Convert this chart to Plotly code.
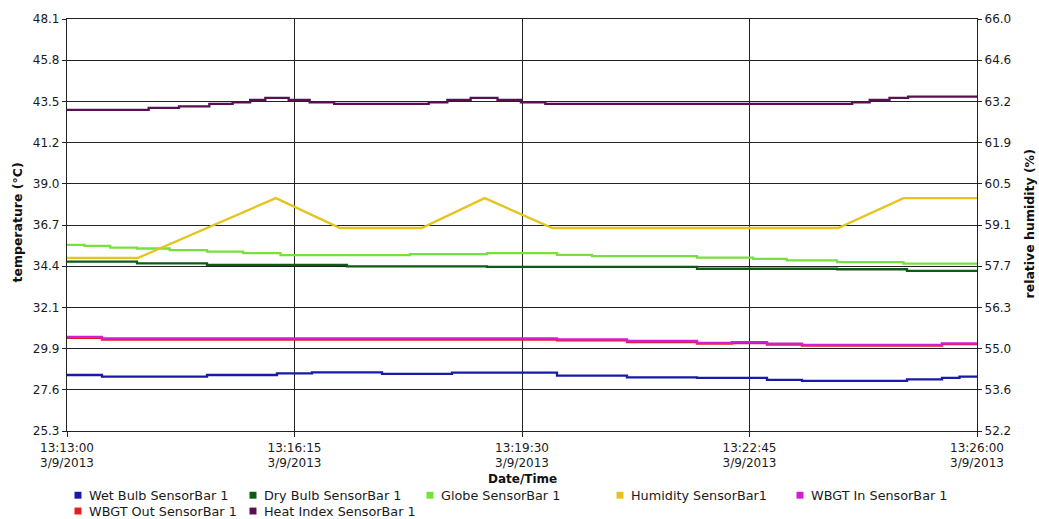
import numpy as np
import plotly.graph_objects as go

# ---- sensor readings, 3/9/2013 ----
DAY = "2013-03-09 "

wet_bulb_times = ["13:13:00", "13:13:30", "13:15:00", "13:16:00", "13:16:30", "13:17:30",
                  "13:18:30", "13:20:00", "13:21:00", "13:22:00", "13:23:00", "13:23:30",
                  "13:25:00", "13:25:30", "13:25:45", "13:26:00"]
wet_bulb_vals = [28.40, 28.31, 28.40, 28.49, 28.54, 28.46, 28.53, 28.36, 28.27, 28.24,
                 28.13, 28.07, 28.16, 28.24, 28.31, 28.31]

dry_bulb_times = ["13:13:00", "13:14:00", "13:15:00", "13:17:00", "13:19:00", "13:22:00",
                  "13:24:00", "13:25:00", "13:26:00"]
dry_bulb_vals = [34.67, 34.58, 34.49, 34.41, 34.38, 34.28, 34.25, 34.16, 34.16]

globe_times = ["13:13:00", "13:13:15", "13:13:37", "13:14:00", "13:14:28", "13:15:00",
               "13:15:31", "13:16:03", "13:17:54", "13:19:00", "13:20:00", "13:20:30",
               "13:22:00", "13:22:48", "13:23:17", "13:24:00", "13:24:57", "13:26:00"]
globe_vals = [35.60, 35.54, 35.45, 35.40, 35.31, 35.23, 35.14, 35.03, 35.09, 35.14,
              35.05, 34.98, 34.89, 34.83, 34.74, 34.65, 34.56, 34.56]

humidity_times = ["13:13:00", "13:14:01", "13:15:59", "13:16:54", "13:18:04", "13:18:58",
                  "13:19:56", "13:24:01", "13:24:57", "13:26:00"]
humidity_vals = [58.0, 58.0, 60.0, 59.0, 59.0, 60.0, 59.0, 59.0, 60.0, 60.0]

wbgt_times = ["13:13:00", "13:13:30", "13:20:00", "13:21:00", "13:22:00", "13:22:30",
              "13:23:00", "13:23:30", "13:25:30", "13:26:00"]
wbgt_in_vals = [30.51, 30.42, 30.37, 30.28, 30.18, 30.22, 30.13, 30.07, 30.15, 30.15]
wbgt_out_vals = [30.45, 30.36, 30.31, 30.22, 30.13, 30.17, 30.08, 30.03, 30.11, 30.11]

heat_index_times = ["13:13:00", "13:14:10", "13:14:36", "13:15:02", "13:15:22", "13:15:37",
                    "13:15:50", "13:16:10", "13:16:28", "13:16:49", "13:18:10", "13:18:26",
                    "13:18:46", "13:19:09", "13:19:29", "13:19:50", "13:24:13", "13:24:28",
                    "13:24:45", "13:25:01", "13:26:00"]
heat_index_vals = [43.07, 43.18, 43.27, 43.40, 43.49, 43.62, 43.73, 43.62, 43.49, 43.40,
                   43.49, 43.62, 43.73, 43.62, 43.49, 43.40, 43.49, 43.62, 43.73, 43.80, 43.80]

x_tick_times = ["13:13:00", "13:16:15", "13:19:30", "13:22:45", "13:26:00"]
temp_tick_labels = ["25.3", "27.6", "29.9", "32.1", "34.4", "36.7", "39.0", "41.2", "43.5", "45.8", "48.1"]
rh_tick_labels = ["52.2", "53.6", "55.0", "56.3", "57.7", "59.1", "60.5", "61.9", "63.2", "64.6", "66.0"]

series_names = ["Wet Bulb SensorBar 1", "Dry Bulb SensorBar 1", "Globe SensorBar 1",
                "Humidity SensorBar1", "WBGT In SensorBar 1", "WBGT Out SensorBar 1",
                "Heat Index SensorBar 1"]
series_colors = ["#1a1aa6", "#0e5a16", "#78e03c", "#e6c41e", "#d21ed2", "#e02020", "#5a0f55"]


def stamp(times):
    return [DAY + t for t in times]


# ---- canvas geometry ----
W, H = 1039, 519
L, R, T, B = 67, 62, 14, 88
PW, PH = W - L - R, H - T - B


def px_x(px):
    return (px - L) / PW


def px_y(py):
    return (H - B - py) / PH


fig = go.Figure()

line_specs = [
    (wet_bulb_times, wet_bulb_vals, 0, "y", "hv"),
    (dry_bulb_times, dry_bulb_vals, 1, "y", "hv"),
    (globe_times, globe_vals, 2, "y", "hv"),
    (humidity_times, humidity_vals, 3, "y2", "linear"),
    (wbgt_times, wbgt_out_vals, 5, "y", "hv"),
    (wbgt_times, wbgt_in_vals, 4, "y", "hv"),
    (heat_index_times, heat_index_vals, 6, "y", "hv"),
]
for times, vals, idx, axis, shape in line_specs:
    fig.add_trace(go.Scatter(
        x=stamp(times), y=vals, yaxis=axis, mode="lines", name=series_names[idx],
        line=dict(color=series_colors[idx], width=2.3, shape=shape),
        showlegend=False, hoverinfo="x+y+name",
    ))

GRID = "#222222"
FONT = "DejaVu Sans"
tick_font = dict(family=FONT, size=12, color="#1a1a1a")

temp_lo, temp_hi = float(temp_tick_labels[0]), float(temp_tick_labels[-1])
rh_lo, rh_hi = float(rh_tick_labels[0]), float(rh_tick_labels[-1])

fig.update_layout(
    width=W, height=H,
    margin=dict(l=L, r=R, t=T, b=B, pad=0),
    paper_bgcolor="white", plot_bgcolor="white",
    showlegend=False,
    xaxis=dict(
        type="date", range=[DAY + x_tick_times[0], DAY + x_tick_times[-1]],
        tickvals=stamp(x_tick_times),
        ticktext=[f"{t}<br>3/9/2013" for t in x_tick_times],
        showgrid=True, gridcolor=GRID, gridwidth=1.2,
        showline=True, linecolor=GRID, linewidth=1.2, mirror=True,
        ticks="outside", ticklen=5, tickcolor=GRID,
        tickfont=tick_font, zeroline=False,
    ),
    yaxis=dict(
        range=[temp_lo, temp_hi],
        tickvals=list(np.linspace(temp_lo, temp_hi, len(temp_tick_labels))),
        ticktext=temp_tick_labels,
        showgrid=True, gridcolor=GRID, gridwidth=1.2,
        showline=True, linecolor=GRID, linewidth=1.2,
        ticks="outside", ticklen=4, tickcolor=GRID,
        tickfont=tick_font, zeroline=False,
    ),
    yaxis2=dict(
        overlaying="y", side="right", range=[rh_lo, rh_hi],
        tickvals=list(np.linspace(rh_lo, rh_hi, len(rh_tick_labels))),
        ticktext=rh_tick_labels,
        showgrid=False, showline=True, linecolor=GRID, linewidth=1.2,
        ticks="outside", ticklen=4, tickcolor=GRID,
        tickfont=tick_font, zeroline=False,
    ),
)

title_font = dict(family=FONT, size=12.5, color="#111111")
annotations = [
    dict(text="<b>temperature (°C)</b>", x=px_x(18), y=px_y(220), textangle=-90,
         font=title_font),
    dict(text="<b>relative humidity (%)</b>", x=px_x(1030), y=px_y(222), textangle=-90,
         font=title_font),
    dict(text="<b>Date/Time</b>", x=px_x(522), y=px_y(480), font=dict(family=FONT, size=12, color="#111111")),
]
for a in annotations:
    a.update(xref="paper", yref="paper", showarrow=False, xanchor="center", yanchor="middle")

# legend laid out in two rows beneath the axis
legend_slots = [(78, 496), (253, 496), (430, 496), (620, 496), (800, 496), (78, 512), (253, 512)]
shapes = []
for (cx, cy), name, color in zip(legend_slots, series_names, series_colors):
    shapes.append(dict(type="rect", xref="paper", yref="paper",
                       x0=px_x(cx - 3.5), x1=px_x(cx + 3.5), y0=px_y(cy + 3.5), y1=px_y(cy - 3.5),
                       fillcolor=color, line=dict(width=0)))
    annotations.append(dict(text=name, x=px_x(cx + 9), y=px_y(cy), xref="paper", yref="paper",
                            xanchor="left", yanchor="middle", showarrow=False,
                            font=dict(family=FONT, size=12.8, color="#1a1a1a")))

fig.update_layout(annotations=annotations, shapes=shapes)

fig.write_html("out.html")
